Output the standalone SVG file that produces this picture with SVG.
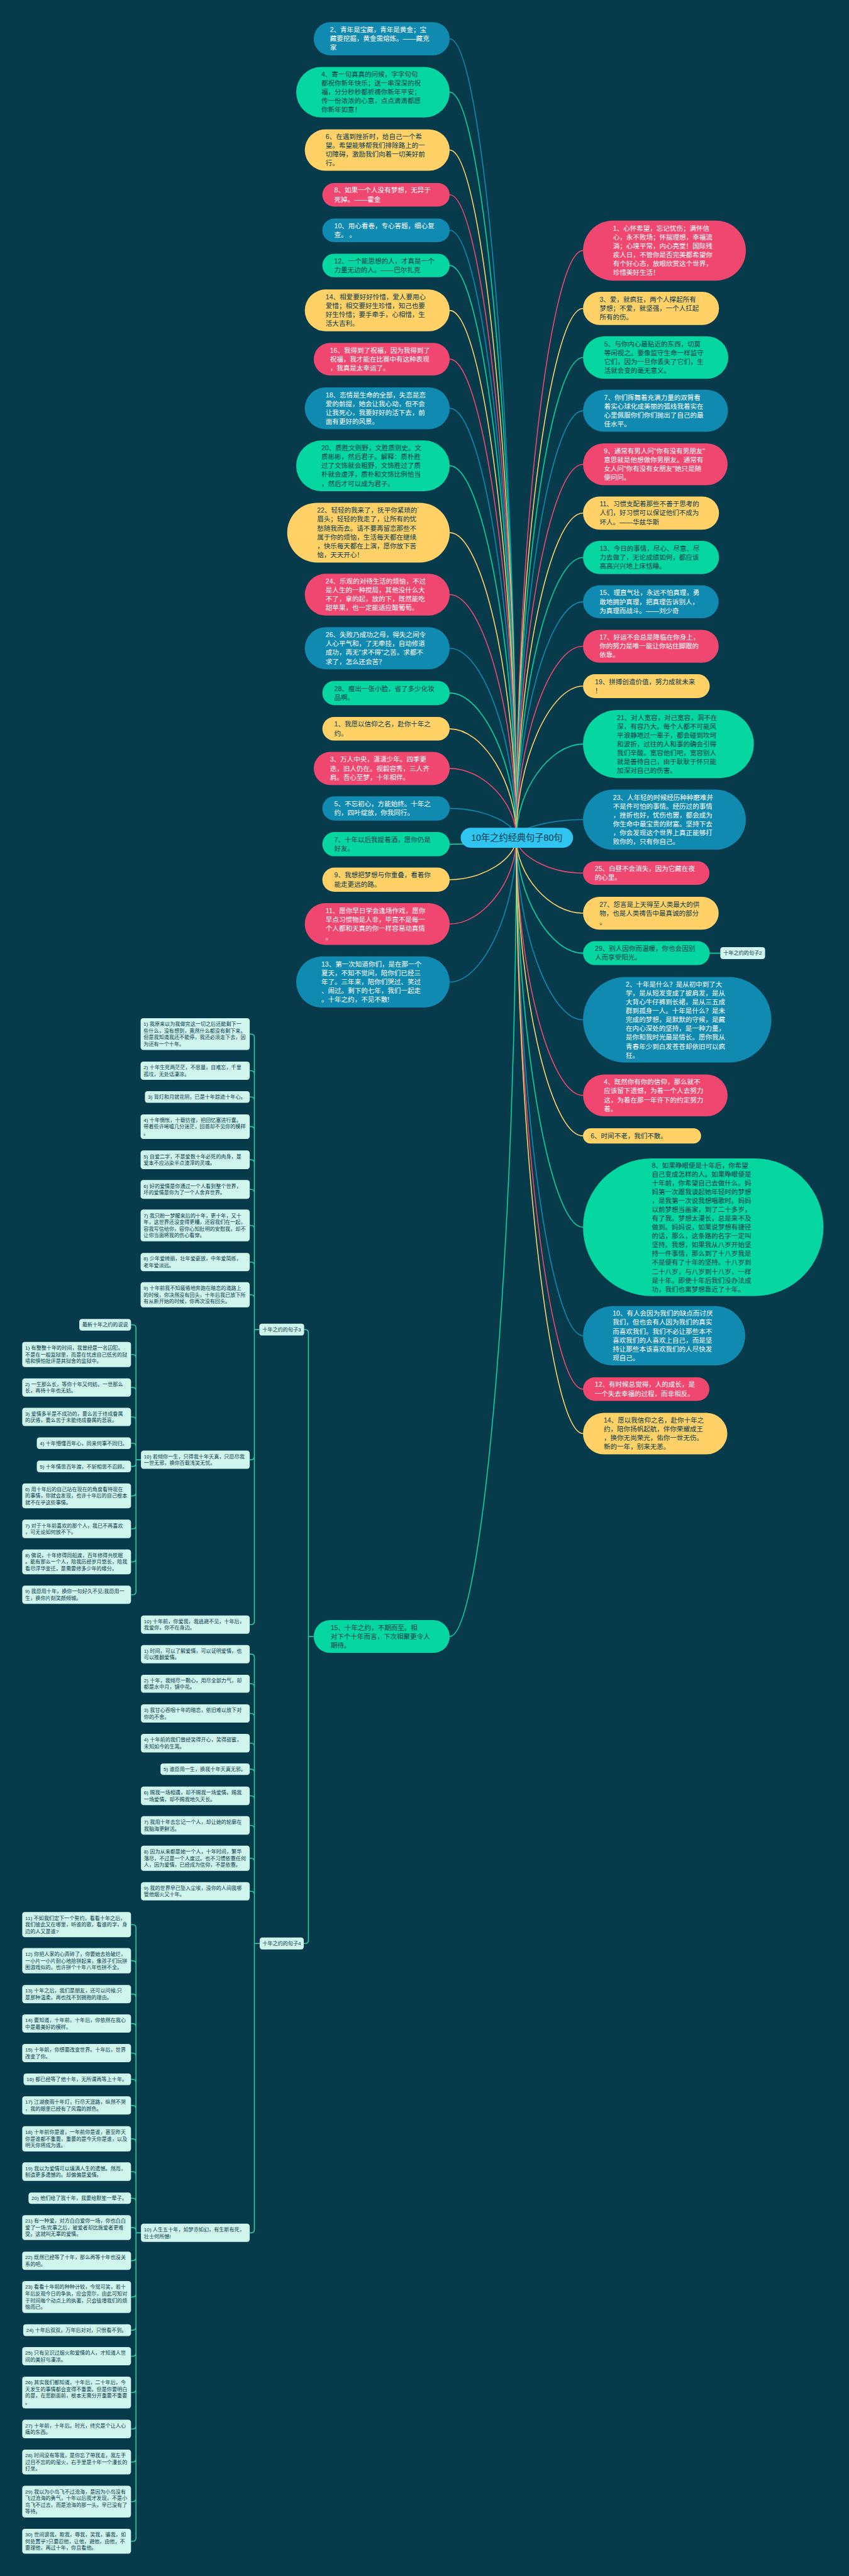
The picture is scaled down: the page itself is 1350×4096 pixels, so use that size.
<svg xmlns="http://www.w3.org/2000/svg" width="1350" height="4096" viewBox="0 0 1350 4096">
<style>
.t{font-family:"Liberation Sans","Noto Sans CJK SC",sans-serif}
.pk{fill:#EF476F}.yl{fill:#FFD166}.gr{fill:#06D6A0}.bl{fill:#118AB2}.lt{fill:#CFF5EC}.ce{fill:#30C5F0}
.tw{fill:#FFFFFF;font-size:20px}.td{fill:#073B4C;font-size:20px}.ts{fill:#073B4C;font-size:15.4px}
.cn{fill:none;stroke-width:3}.sp{stroke:#EF476F}.sy{stroke:#FFD166}.sg{stroke:#06D6A0}.sb{stroke:#118AB2}
.br{fill:none;stroke:#2ACFA2;stroke-width:3}
</style>
<rect x="0" y="0" width="1350" height="4096" fill="#073B4C"/>
<g transform="scale(0.52734375)">
<g id="connectors">
<path class="cn sb" d="M1557 2526C1557 1321.5 1456.5 117 1356 117"/>
<path class="cn sg" d="M1557 2526C1557 1402 1456.5 278 1356 278"/>
<path class="cn sy" d="M1557 2526C1557 1489.25 1456.5 452.5 1356 452.5"/>
<path class="cn sp" d="M1557 2526C1557 1556.75 1456.5 587.5 1356 587.5"/>
<path class="cn sb" d="M1557 2526C1557 1610.25 1456.5 694.5 1356 694.5"/>
<path class="cn sg" d="M1557 2526C1557 1663.25 1456.5 800.5 1356 800.5"/>
<path class="cn sy" d="M1557 2526C1557 1731 1456.5 936 1356 936"/>
<path class="cn sp" d="M1557 2526C1557 1804.5 1456.5 1083 1356 1083"/>
<path class="cn sb" d="M1557 2526C1557 1878.5 1456.5 1231 1356 1231"/>
<path class="cn sg" d="M1557 2526C1557 1965.25 1456.5 1404.5 1356 1404.5"/>
<path class="cn sy" d="M1557 2526C1557 2066 1456.5 1606 1356 1606"/>
<path class="cn sp" d="M1557 2526C1557 2159.5 1456.5 1793 1356 1793"/>
<path class="cn sb" d="M1557 2526C1557 2240.25 1456.5 1954.5 1356 1954.5"/>
<path class="cn sg" d="M1557 2526C1557 2307.75 1456.5 2089.5 1356 2089.5"/>
<path class="cn sy" d="M1557 2526C1557 2361.75 1456.5 2197.5 1356 2197.5"/>
<path class="cn sp" d="M1557 2526C1557 2421.5 1456.5 2317 1356 2317"/>
<path class="cn sb" d="M1557 2526C1557 2481.75 1456.5 2437.5 1356 2437.5"/>
<path class="cn sg" d="M1557 2526C1557 2535.75 1456.5 2545.5 1356 2545.5"/>
<path class="cn sy" d="M1557 2526C1557 2589.25 1456.5 2652.5 1356 2652.5"/>
<path class="cn sp" d="M1557 2526C1557 2656 1456.5 2786 1356 2786"/>
<path class="cn sb" d="M1557 2526C1557 2743.5 1456.5 2961 1356 2961"/>
<path class="cn sg" d="M1557 2526C1557 3730.25 1456.5 4934.5 1356 4934.5"/>
<path class="cn sp" d="M1557 2526C1557 1640.75 1657.5 755.5 1758 755.5"/>
<path class="cn sy" d="M1557 2526C1557 1728 1657.5 930 1758 930"/>
<path class="cn sg" d="M1557 2526C1557 1802 1657.5 1078 1758 1078"/>
<path class="cn sb" d="M1557 2526C1557 1882.25 1657.5 1238.5 1758 1238.5"/>
<path class="cn sp" d="M1557 2526C1557 1963 1657.5 1400 1758 1400"/>
<path class="cn sy" d="M1557 2526C1557 2036.5 1657.5 1547 1758 1547"/>
<path class="cn sg" d="M1557 2526C1557 2103.5 1657.5 1681 1758 1681"/>
<path class="cn sb" d="M1557 2526C1557 2170.25 1657.5 1814.5 1758 1814.5"/>
<path class="cn sp" d="M1557 2526C1557 2237.25 1657.5 1948.5 1758 1948.5"/>
<path class="cn sy" d="M1557 2526C1557 2297.5 1657.5 2069 1758 2069"/>
<path class="cn sg" d="M1557 2526C1557 2384.75 1657.5 2243.5 1758 2243.5"/>
<path class="cn sb" d="M1557 2526C1557 2498.75 1657.5 2471.5 1758 2471.5"/>
<path class="cn sp" d="M1557 2526C1557 2579.25 1657.5 2632.5 1758 2632.5"/>
<path class="cn sy" d="M1557 2526C1557 2639.75 1657.5 2753.5 1758 2753.5"/>
<path class="cn sg" d="M1557 2526C1557 2700 1657.5 2874 1758 2874H2172"/>
<path class="cn sb" d="M1557 2526C1557 2800.5 1657.5 3075 1758 3075"/>
<path class="cn sp" d="M1557 2526C1557 2914.5 1657.5 3303 1758 3303"/>
<path class="cn sy" d="M1557 2526C1557 2975.5 1657.5 3425 1758 3425"/>
<path class="cn sg" d="M1557 2526C1557 3113.25 1657.5 3700.5 1758 3700.5"/>
<path class="cn sb" d="M1557 2526C1557 3276.75 1657.5 4027.5 1758 4027.5"/>
<path class="cn sp" d="M1557 2526C1557 3357.25 1657.5 4188.5 1758 4188.5"/>
<path class="cn sy" d="M1557 2526C1557 3424.25 1657.5 4322.5 1758 4322.5"/>
<path class="br" d="M946 4934.5H930V4019Q930 4009 920 4009H917M946 4934.5H930V5850Q930 5860 920 5860H916"/>
<path class="br" d="M782 4009H767V3128Q767 3118 757 3118H753M782 4009H767V3238.5Q767 3228.5 757 3228.5H753M782 4009H767V3317.5Q767 3307.5 757 3307.5H753M782 4009H767V3407Q767 3397 757 3397H753M782 4009H767V3507Q767 3497 757 3497H753M782 4009H767V3596.5Q767 3586.5 757 3586.5H753M782 4009H767V3705Q767 3695 757 3695H753M782 4009H767V3815.5Q767 3805.5 757 3805.5H753M782 4009H767V3914Q767 3904 757 3904H753M782 4009H767V4391.5Q767 4401.5 757 4401.5H753M782 4009H767V4888.5Q767 4898.5 757 4898.5H753"/>
<path class="br" d="M425 4401.5H410V4004.5Q410 3994.5 400 3994.5H395M425 4401.5H410V4094Q410 4084 400 4084H395M425 4401.5H410V4193.5Q410 4183.5 400 4183.5H395M425 4401.5H410V4282.5Q410 4272.5 400 4272.5H395M425 4401.5H410V4361.5Q410 4351.5 400 4351.5H395M425 4401.5H410V4411.5Q410 4421.5 400 4421.5H395M425 4401.5H410V4500.5Q410 4510.5 400 4510.5H395M425 4401.5H410V4600Q410 4610 400 4610H395M425 4401.5H410V4699.5Q410 4709.5 400 4709.5H395M425 4401.5H410V4798.5Q410 4808.5 400 4808.5H395"/>
<path class="br" d="M783 5860H767V4997.5Q767 4987.5 757 4987.5H753M783 5860H767V5087Q767 5077 757 5077H753M783 5860H767V5176.5Q767 5166.5 757 5166.5H753M783 5860H767V5266Q767 5256 757 5256H753M783 5860H767V5344.5Q767 5334.5 757 5334.5H753M783 5860H767V5425Q767 5415 757 5415H753M783 5860H767V5514Q767 5504 757 5504H753M783 5860H767V5613Q767 5603 757 5603H753M783 5860H767V5712.5Q767 5702.5 757 5702.5H753M783 5860H767V6722.5Q767 6732.5 757 6732.5H753"/>
<path class="br" d="M425 6732.5H410V5813Q410 5803 400 5803H395M425 6732.5H410V5922Q410 5912 400 5912H395M425 6732.5H410V6022.5Q410 6012.5 400 6012.5H395M425 6732.5H410V6111.5Q410 6101.5 400 6101.5H395M425 6732.5H410V6200.5Q410 6190.5 400 6190.5H395M425 6732.5H410V6279.5Q410 6269.5 400 6269.5H395M425 6732.5H410V6358.5Q410 6348.5 400 6348.5H395M425 6732.5H410V6459Q410 6449 400 6449H395M425 6732.5H410V6558Q410 6548 400 6548H395M425 6732.5H410V6638Q410 6628 400 6628H395M425 6732.5H410V6726.5Q410 6716.5 400 6716.5H395M425 6732.5H410V6806.5Q410 6816.5 400 6816.5H395M425 6732.5H410V6916Q410 6926 400 6926H395M425 6732.5H410V7016Q410 7026 400 7026H395M425 6732.5H410V7094.5Q410 7104.5 400 7104.5H395M425 6732.5H410V7204Q410 7214 400 7214H395M425 6732.5H410V7314Q410 7324 400 7324H395M425 6732.5H410V7413.5Q410 7423.5 400 7423.5H395M425 6732.5H410V7533Q410 7543 400 7543H395M425 6732.5H410V7652.5Q410 7662.5 400 7662.5H395"/>
</g>
<g id="center"><rect class="ce" x="1389" y="2496" width="339" height="60" rx="30"/><text class="t" x="1558.5" y="2536" text-anchor="middle" font-size="27" fill="#073B4C">10年之约经典句子80句</text></g>
<g id="l2"><rect class="bl" x="946" y="67" width="410" height="100" rx="50"/><text class="t tw" x="995" y="97.3"><tspan>2、青年是宝藏，青年是黄金；宝</tspan><tspan x="995" dy="26.7">藏要挖掘，黄金需熔炼。——藏克</tspan><tspan x="995" dy="26.7">家</tspan></text></g>
<g id="l4"><rect class="gr" x="893" y="202" width="463" height="152" rx="76"/><text class="t td" x="969" y="231.6"><tspan>4、寄一句真真的问候，字字句句</tspan><tspan x="969" dy="26.7">都祝你新年快乐；送一串深深的祝</tspan><tspan x="969" dy="26.7">福，分分秒秒都祈祷你新年平安；</tspan><tspan x="969" dy="26.7">传一份浓浓的心意，点点滴滴都愿</tspan><tspan x="969" dy="26.7">你新年如意！</tspan></text></g>
<g id="l6"><rect class="yl" x="919" y="390" width="437" height="125" rx="62.5"/><text class="t td" x="982" y="419.45"><tspan>6、在遇到挫折时，给自己一个希</tspan><tspan x="982" dy="26.7">望。希望能够帮我们排除路上的一</tspan><tspan x="982" dy="26.7">切障碍，激励我们向着一切美好前</tspan><tspan x="982" dy="26.7">行。</tspan></text></g>
<g id="l8"><rect class="pk" x="972" y="552" width="384" height="71" rx="35.5"/><text class="t tw" x="1008" y="581.15"><tspan>8、如果一个人没有梦想，无异于</tspan><tspan x="1008" dy="26.7">死掉。——霍金</tspan></text></g>
<g id="l10"><rect class="bl" x="972" y="659" width="384" height="71" rx="35.5"/><text class="t tw" x="1008" y="688.15"><tspan>10、用心看卷，专心答题，细心复</tspan><tspan x="1008" dy="26.7">查。 。</tspan></text></g>
<g id="l12"><rect class="gr" x="972" y="765" width="384" height="71" rx="35.5"/><text class="t td" x="1008" y="794.15"><tspan>12、一个能思想的人，才真是一个</tspan><tspan x="1008" dy="26.7">力量无边的人。——巴尔扎克</tspan></text></g>
<g id="l14"><rect class="yl" x="919" y="873" width="437" height="126" rx="63"/><text class="t td" x="982" y="902.95"><tspan>14、相爱要好好怜惜，爱人要用心</tspan><tspan x="982" dy="26.7">爱惜；相交要好生珍惜，知己也要</tspan><tspan x="982" dy="26.7">好生怜惜；要手牵手，心相惜，生</tspan><tspan x="982" dy="26.7">活大吉利。</tspan></text></g>
<g id="l16"><rect class="pk" x="946" y="1034" width="410" height="98" rx="49"/><text class="t tw" x="995" y="1063.3"><tspan>16、我得到了祝福，因为我得到了</tspan><tspan x="995" dy="26.7">祝福，我才能在比赛中有这种表现</tspan><tspan x="995" dy="26.7">，我真是太幸运了。</tspan></text></g>
<g id="l18"><rect class="bl" x="919" y="1168" width="437" height="126" rx="63"/><text class="t tw" x="982" y="1197.95"><tspan>18、恋情是生命的全部，失恋是恋</tspan><tspan x="982" dy="26.7">爱的前提，她会让我心动，但不会</tspan><tspan x="982" dy="26.7">让我死心，我要好好的活下去，前</tspan><tspan x="982" dy="26.7">面有更好的风景。</tspan></text></g>
<g id="l20"><rect class="gr" x="893" y="1328" width="463" height="153" rx="76.5"/><text class="t td" x="969" y="1358.1"><tspan>20、质胜文则野，文胜质则史。文</tspan><tspan x="969" dy="26.7">质彬彬，然后君子。解释：质朴胜</tspan><tspan x="969" dy="26.7">过了文饰就会粗野，文饰胜过了质</tspan><tspan x="969" dy="26.7">朴就会虚浮，质朴和文饰比例恰当</tspan><tspan x="969" dy="26.7">，然后才可以成为君子。</tspan></text></g>
<g id="l22"><rect class="yl" x="866" y="1516" width="490" height="180" rx="90"/><text class="t td" x="956" y="1546.25"><tspan>22、轻轻的我来了，抚平你紧琐的`</tspan><tspan x="956" dy="26.7">眉头；轻轻的我走了，让所有的忧</tspan><tspan x="956" dy="26.7">愁随我而去。请不要再留恋那些不</tspan><tspan x="956" dy="26.7">属于你的烦恼，生活每天都在继续</tspan><tspan x="956" dy="26.7">，快乐每天都在上演，愿你放下苦</tspan><tspan x="956" dy="26.7">恼，天天开心！</tspan></text></g>
<g id="l24"><rect class="pk" x="919" y="1730" width="437" height="126" rx="63"/><text class="t tw" x="982" y="1759.95"><tspan>24、乐观的对待生活的烦恼，不过</tspan><tspan x="982" dy="26.7">是人生的一种搅局，其他没什么大</tspan><tspan x="982" dy="26.7">不了，拿的起，放的下，既然能吃</tspan><tspan x="982" dy="26.7">甜苹果，也一定能适应酸葡萄。</tspan></text></g>
<g id="l26"><rect class="bl" x="919" y="1891" width="437" height="127" rx="63.5"/><text class="t tw" x="982" y="1921.45"><tspan>26、失败乃成功之母，得失之间令</tspan><tspan x="982" dy="26.7">人心平气和，了无牵挂，自动修道</tspan><tspan x="982" dy="26.7">成功，再无"求不得"之苦。求都不</tspan><tspan x="982" dy="26.7">求了，怎么还会苦？</tspan></text></g>
<g id="l28"><rect class="gr" x="972" y="2053" width="384" height="73" rx="36.5"/><text class="t td" x="1008" y="2083.15"><tspan>28、瘦出一张小脸，省了多少化妆</tspan><tspan x="1008" dy="26.7">品啊。</tspan></text></g>
<g id="l1"><rect class="yl" x="972" y="2162" width="384" height="71" rx="35.5"/><text class="t td" x="1008" y="2191.15"><tspan>1、我愿以信仰之名，赴你十年之</tspan><tspan x="1008" dy="26.7">约。</tspan></text></g>
<g id="l3"><rect class="pk" x="946" y="2267" width="410" height="100" rx="50"/><text class="t tw" x="995" y="2297.3"><tspan>3、万人中央，潇潇少年。四季更</tspan><tspan x="995" dy="26.7">迭，旧人仍在。视毅容秀，三人齐</tspan><tspan x="995" dy="26.7">肩。吾心至梦，十年相伴。</tspan></text></g>
<g id="l5"><rect class="bl" x="972" y="2401" width="384" height="73" rx="36.5"/><text class="t tw" x="1008" y="2431.15"><tspan>5、不忘初心，方能始终。十年之</tspan><tspan x="1008" dy="26.7">约，四叶绽放，你我同行。</tspan></text></g>
<g id="l7"><rect class="gr" x="972" y="2509" width="384" height="73" rx="36.5"/><text class="t td" x="1008" y="2539.15"><tspan>7、十年以后我提着酒，愿你仍是</tspan><tspan x="1008" dy="26.7">好友。</tspan></text></g>
<g id="l9"><rect class="yl" x="972" y="2616" width="384" height="73" rx="36.5"/><text class="t td" x="1008" y="2646.15"><tspan>9、我想把梦想与你重叠，看着你</tspan><tspan x="1008" dy="26.7">能走更远的路。</tspan></text></g>
<g id="l11"><rect class="pk" x="919" y="2723" width="437" height="126" rx="63"/><text class="t tw" x="982" y="2752.95"><tspan>11、愿你早日学会逢场作戏，愿你</tspan><tspan x="982" dy="26.7">早点习惯物是人非，毕竟不是每一</tspan><tspan x="982" dy="26.7">个人都和天真的你一样容易动真情</tspan><tspan x="982" dy="26.7">。</tspan></text></g>
<g id="l13"><rect class="bl" x="893" y="2884" width="463" height="154" rx="77"/><text class="t tw" x="969" y="2914.6"><tspan>13、第一次知道你们，是在那一个</tspan><tspan x="969" dy="26.7">夏天，不知不觉间，陪你们已经三</tspan><tspan x="969" dy="26.7">年了。三年来，陪你们哭过、笑过</tspan><tspan x="969" dy="26.7">、闹过。剩下的七年，我们一起走</tspan><tspan x="969" dy="26.7">。十年之约，不见不散!</tspan></text></g>
<g id="l15"><rect class="gr" x="946" y="4885" width="410" height="99" rx="49.5"/><text class="t td" x="997" y="4914.8"><tspan>15、十年之约，不期而至。相</tspan><tspan x="997" dy="26.7">对下个十年而言，下次相聚更令人</tspan><tspan x="997" dy="26.7">期待。</tspan></text></g>
<g id="r1"><rect class="pk" x="1758" y="665" width="491" height="181" rx="90.5"/><text class="t tw" x="1848.5" y="695.75"><tspan>1、心怀希望，忘记忧伤；满怀信</tspan><tspan x="1848.5" dy="26.7">心，永不败场；怀揣理想，幸福流</tspan><tspan x="1848.5" dy="26.7">淌；心境平常，内心亮堂！国际残</tspan><tspan x="1848.5" dy="26.7">疾人日，不管你是否完美都希望你</tspan><tspan x="1848.5" dy="26.7">有个好心态，放眼欣赏这个世界，</tspan><tspan x="1848.5" dy="26.7">珍惜美好生活！</tspan></text></g>
<g id="r3"><rect class="yl" x="1758" y="880" width="410" height="100" rx="50"/><text class="t td" x="1808" y="910.3"><tspan>3、爱，就疯狂，两个人撑起所有</tspan><tspan x="1808" dy="26.7">梦想；不爱，就坚强，一个人扛起</tspan><tspan x="1808" dy="26.7">所有的伤。</tspan></text></g>
<g id="r5"><rect class="gr" x="1758" y="1014" width="438" height="128" rx="64"/><text class="t td" x="1822" y="1044.95"><tspan>5、与你内心最贴近的东西，切莫</tspan><tspan x="1822" dy="26.7">等闲视之。要像监守生命一样监守</tspan><tspan x="1822" dy="26.7">它们，因为一旦你丢失了它们，生</tspan><tspan x="1822" dy="26.7">活就会变的毫无意义。</tspan></text></g>
<g id="r7"><rect class="bl" x="1758" y="1175" width="437" height="127" rx="63.5"/><text class="t tw" x="1821.5" y="1205.45"><tspan>7、你们挥舞着充满力量的双臂看</tspan><tspan x="1821.5" dy="26.7">着实心球化成美丽的弧线我着实在</tspan><tspan x="1821.5" dy="26.7">心里佩服你们你们抛出了自己的最</tspan><tspan x="1821.5" dy="26.7">佳水平。</tspan></text></g>
<g id="r9"><rect class="pk" x="1758" y="1337" width="436" height="126" rx="63"/><text class="t tw" x="1821" y="1366.95"><tspan>9、通常有男人问"你有没有男朋友"</tspan><tspan x="1821" dy="26.7">意思就是他想做你男朋友。通常有</tspan><tspan x="1821" dy="26.7">女人问"你有没有女朋友"她只是随</tspan><tspan x="1821" dy="26.7">便问问。</tspan></text></g>
<g id="r11"><rect class="yl" x="1758" y="1497" width="410" height="100" rx="50"/><text class="t td" x="1808" y="1527.3"><tspan>11、习惯支配着那些不善于思考的</tspan><tspan x="1808" dy="26.7">人们，好习惯可以保证他们不成为</tspan><tspan x="1808" dy="26.7">坏人。——华兹华斯</tspan></text></g>
<g id="r13"><rect class="gr" x="1758" y="1631" width="410" height="100" rx="50"/><text class="t td" x="1808" y="1661.3"><tspan>13、今日的事情，尽心、尽意、尽</tspan><tspan x="1808" dy="26.7">力去做了，无论成绩如何，都应该</tspan><tspan x="1808" dy="26.7">高高兴兴地上床恬睡。</tspan></text></g>
<g id="r15"><rect class="bl" x="1758" y="1765" width="409" height="99" rx="49.5"/><text class="t tw" x="1807.5" y="1794.8"><tspan>15、理直气壮，永远不怕真理，勇</tspan><tspan x="1807.5" dy="26.7">敢地拥护真理，把真理告诉别人，</tspan><tspan x="1807.5" dy="26.7">为真理而战斗。——刘少奇</tspan></text></g>
<g id="r17"><rect class="pk" x="1758" y="1899" width="409" height="99" rx="49.5"/><text class="t tw" x="1807.5" y="1928.8"><tspan>17、好运不会总是降临在你身上，</tspan><tspan x="1807.5" dy="26.7">你的努力是唯一能让你站住脚跟的</tspan><tspan x="1807.5" dy="26.7">依靠。</tspan></text></g>
<g id="r19"><rect class="yl" x="1758" y="2033" width="382" height="72" rx="36"/><text class="t td" x="1794" y="2062.65"><tspan>19、拼搏创造价值，努力成就未来</tspan><tspan x="1794" dy="26.7">！</tspan></text></g>
<g id="r21"><rect class="gr" x="1758" y="2141" width="515" height="205" rx="102.5"/><text class="t td" x="1860.5" y="2170.4"><tspan>21、对人宽容，对己宽容，洞不在</tspan><tspan x="1860.5" dy="26.7">深，有容乃大。每个人都不可能风</tspan><tspan x="1860.5" dy="26.7">平浪静地过一辈子，都会碰到坎坷</tspan><tspan x="1860.5" dy="26.7">和波折，过往的人和事的确会引得</tspan><tspan x="1860.5" dy="26.7">我们辛酸。宽容他们吧，宽容别人</tspan><tspan x="1860.5" dy="26.7">就是善待自己，由于耿耿于怀只能</tspan><tspan x="1860.5" dy="26.7">加深对自己的伤害。</tspan></text></g>
<g id="r23"><rect class="bl" x="1758" y="2381" width="491" height="181" rx="90.5"/><text class="t tw" x="1848.5" y="2411.75"><tspan>23、人年轻的时候经历种种磨难并</tspan><tspan x="1848.5" dy="26.7">不是件可怕的事情。经历过的事情</tspan><tspan x="1848.5" dy="26.7">，挫折也好，忧伤也罢，都会成为</tspan><tspan x="1848.5" dy="26.7">你生命中最宝贵的财富。坚持下去</tspan><tspan x="1848.5" dy="26.7">，你会发现这个世界上真正能够打</tspan><tspan x="1848.5" dy="26.7">败你的，只有你自己。</tspan></text></g>
<g id="r25"><rect class="pk" x="1758" y="2597" width="381" height="71" rx="35.5"/><text class="t tw" x="1793.5" y="2626.15"><tspan>25、白昼不会消失，因为它藏在夜</tspan><tspan x="1793.5" dy="26.7">的心里。</tspan></text></g>
<g id="r27"><rect class="yl" x="1758" y="2704" width="409" height="99" rx="49.5"/><text class="t td" x="1807.5" y="2733.8"><tspan>27、怨言是上天得至人类最大的供</tspan><tspan x="1807.5" dy="26.7">物，也是人类祷告中最真诚的部分</tspan><tspan x="1807.5" dy="26.7">。</tspan></text></g>
<g id="r29"><rect class="gr" x="1758" y="2838" width="382" height="72" rx="36"/><text class="t td" x="1794" y="2867.65"><tspan>29、别人因你而温暖，你也会因别</tspan><tspan x="1794" dy="26.7">人而享受阳光。</tspan></text></g>
<g id="label2"><rect class="lt" x="2172" y="2856" width="135" height="36" rx="8"/><text class="t ts" x="2239.5" y="2879.5" text-anchor="middle">十年之约的句子2</text></g>
<g id="r2"><rect class="bl" x="1758" y="2946" width="568" height="258" rx="129"/><text class="t tw" x="1887" y="2975.2"><tspan>2、十年是什么？是从初中到了大</tspan><tspan x="1887" dy="26.7">学，是从短发变成了披肩发，是从</tspan><tspan x="1887" dy="26.7">大背心牛仔裤到长裙，是从三五成</tspan><tspan x="1887" dy="26.7">群到孤身一人。十年是什么？是未</tspan><tspan x="1887" dy="26.7">完成的梦想，是默默的守候，是藏</tspan><tspan x="1887" dy="26.7">在内心深处的坚持，是一种力量，</tspan><tspan x="1887" dy="26.7">是你和我时光最是情长。愿你我从</tspan><tspan x="1887" dy="26.7">青春年少到白发苍苍却依旧可以疯</tspan><tspan x="1887" dy="26.7">狂。</tspan></text></g>
<g id="r4"><rect class="pk" x="1758" y="3240" width="436" height="126" rx="63"/><text class="t tw" x="1821" y="3269.95"><tspan>4、既然你有你的信仰，那么就不</tspan><tspan x="1821" dy="26.7">应该留下遗憾，为着一个人去努力</tspan><tspan x="1821" dy="26.7">这，为着在那一年许下的约定努力</tspan><tspan x="1821" dy="26.7">着。</tspan></text></g>
<g id="r6"><rect class="yl" x="1758" y="3402" width="356" height="46" rx="23"/><text class="t td" x="1781" y="3432">6、时间不老，我们不散。</text></g>
<g id="r8"><rect class="gr" x="1758" y="3493" width="725" height="415" rx="207.5"/><text class="t td" x="1965.5" y="3520.6"><tspan>8、如果睁眼便是十年后，你希望</tspan><tspan x="1965.5" dy="26.7">自己变成怎样的人。如果睁眼便是</tspan><tspan x="1965.5" dy="26.7">十年前，你希望自己去做什么。妈</tspan><tspan x="1965.5" dy="26.7">妈第一次跟我谈起她年轻时的梦想</tspan><tspan x="1965.5" dy="26.7">，是我第一次说我想唱歌时。妈妈</tspan><tspan x="1965.5" dy="26.7">以前梦想当画家，到了二十多岁，</tspan><tspan x="1965.5" dy="26.7">有了我。梦想太漫长，总是来不及</tspan><tspan x="1965.5" dy="26.7">做到。妈妈说，如果说梦想有捷径</tspan><tspan x="1965.5" dy="26.7">的话，那么，这条路的名字一定叫</tspan><tspan x="1965.5" dy="26.7">坚持。我想，如果我从八岁开始坚</tspan><tspan x="1965.5" dy="26.7">持一件事情，那么到了十八岁我是</tspan><tspan x="1965.5" dy="26.7">不是便有了十年的坚持。十八岁到</tspan><tspan x="1965.5" dy="26.7">二十八岁，与八岁到十八岁，一样</tspan><tspan x="1965.5" dy="26.7">是十年。即使十年后我们没办法成</tspan><tspan x="1965.5" dy="26.7">功，我们也离梦想靠近了十年。</tspan></text></g>
<g id="r10"><rect class="bl" x="1758" y="3938" width="489" height="179" rx="89.5"/><text class="t tw" x="1847.5" y="3967.75"><tspan>10、有人会因为我们的缺点而讨厌</tspan><tspan x="1847.5" dy="26.7">我们，但也会有人因为我们的真实</tspan><tspan x="1847.5" dy="26.7">而喜欢我们。我们不必让那些本不</tspan><tspan x="1847.5" dy="26.7">喜欢我们的人喜欢上自己，而是坚</tspan><tspan x="1847.5" dy="26.7">持让那些本该喜欢我们的人尽快发</tspan><tspan x="1847.5" dy="26.7">现自己。</tspan></text></g>
<g id="r12"><rect class="pk" x="1758" y="4153" width="381" height="71" rx="35.5"/><text class="t tw" x="1793.5" y="4182.15"><tspan>12、有时候总觉得，人的成长，是</tspan><tspan x="1793.5" dy="26.7">一个失去幸福的过程，而非相反。</tspan></text></g>
<g id="r14"><rect class="yl" x="1758" y="4260" width="435" height="125" rx="62.5"/><text class="t td" x="1820.5" y="4289.45"><tspan>14、愿以我信仰之名，赴你十年之</tspan><tspan x="1820.5" dy="26.7">约，陪你扬帆起航，伴你荣耀成王</tspan><tspan x="1820.5" dy="26.7">，换你无尚荣光，佑你一世无伤。</tspan><tspan x="1820.5" dy="26.7">新的一年，别来无恙。</tspan></text></g>
<g id="label3"><rect class="lt" x="782" y="3991" width="135" height="36" rx="8"/><text class="t ts" x="849.5" y="4014.5" text-anchor="middle">十年之约的句子3</text></g>
<g id="a1"><rect class="lt" x="424" y="3070" width="329" height="96" rx="8"/><text class="t ts" x="433" y="3093.5"><tspan>1) 我原来以为我做完这一切之后还能剩下一</tspan><tspan x="433" dy="20">些什么，没有想到，竟然什么都没有剩下来。</tspan><tspan x="433" dy="20">但是我知道我还不能停，我还必须走下去，因</tspan><tspan x="433" dy="20">为还有一个十年。</tspan></text></g>
<g id="a2"><rect class="lt" x="424" y="3201" width="329" height="55" rx="8"/><text class="t ts" x="433" y="3224"><tspan>2) 十年生死两茫茫，不思量，自难忘，千里</tspan><tspan x="433" dy="20">孤坟，无处话凄凉。</tspan></text></g>
<g id="a3"><rect class="lt" x="437" y="3290" width="316" height="35" rx="8"/><text class="t ts" x="446" y="3313">3) 背灯和月就花阴，已是十年踪迹十年心。</text></g>
<g id="a4"><rect class="lt" x="424" y="3360" width="329" height="74" rx="8"/><text class="t ts" x="433" y="3382.5"><tspan>4) 十年惆怅，十载彷徨，把回忆塞进行囊。</tspan><tspan x="433" dy="20">带着些许唏嘘几分迷茫，回首却不见你的模样</tspan><tspan x="433" dy="20">。</tspan></text></g>
<g id="a5"><rect class="lt" x="424" y="3469" width="329" height="56" rx="8"/><text class="t ts" x="433" y="3492.5"><tspan>5) 自爱二字，不是爱数十年必死的肉身，是</tspan><tspan x="433" dy="20">爱本不应沾染半点渣滓的灵魂。</tspan></text></g>
<g id="a6"><rect class="lt" x="424" y="3558" width="329" height="57" rx="8"/><text class="t ts" x="433" y="3582"><tspan>6) 好的爱情是你通过一个人看到整个世界，</tspan><tspan x="433" dy="20">坏的爱情是你为了一个人舍弃世界。</tspan></text></g>
<g id="a7"><rect class="lt" x="424" y="3647" width="329" height="96" rx="8"/><text class="t ts" x="433" y="3670.5"><tspan>7) 我只盼一梦醒来后的十年，更十年，又十</tspan><tspan x="433" dy="20">年，这世界还没变得更糟，还容我们在一起，</tspan><tspan x="433" dy="20">容我写信给你，容你心知肚明的安慰我，却不</tspan><tspan x="433" dy="20">让你当面将我的伤心看穿。</tspan></text></g>
<g id="a8"><rect class="lt" x="424" y="3778" width="329" height="55" rx="8"/><text class="t ts" x="433" y="3801"><tspan>8) 少年爱绮丽，壮年爱豪放，中年爱简练，</tspan><tspan x="433" dy="20">老年爱淡远。</tspan></text></g>
<g id="a9"><rect class="lt" x="424" y="3866" width="329" height="76" rx="8"/><text class="t ts" x="433" y="3889.5"><tspan>9) 十年前我不知疲倦地奔跑在暗恋的道路上</tspan><tspan x="433" dy="20">的时候，你决然没有回头，十年后我已放下所</tspan><tspan x="433" dy="20">有从新开始的时候，你再次没有回头。</tspan></text></g>
<g id="a10"><rect class="lt" x="425" y="4374" width="328" height="55" rx="8"/><text class="t ts" x="434" y="4397"><tspan>10) 若倾你一生，只得我十年天真，只愿尽我</tspan><tspan x="434" dy="20">一世无邪，换你百载浅笑无忧。</tspan></text></g>
<g id="a11"><rect class="lt" x="425" y="4871" width="328" height="55" rx="8"/><text class="t ts" x="434" y="4894"><tspan>10) 十年前，你爱我，我逃避不见，十年后，</tspan><tspan x="434" dy="20">我爱你，你不在身边。</tspan></text></g>
<g id="b0"><rect class="lt" x="239" y="3977" width="156" height="35" rx="8"/><text class="t ts" x="317" y="4000" text-anchor="middle">最新十年之约的说说</text></g>
<g id="b1"><rect class="lt" x="67" y="4046" width="328" height="76" rx="8"/><text class="t ts" x="76" y="4069.5"><tspan>1) 有整整十年的时间，我曾经是一名囚犯。</tspan><tspan x="76" dy="20">不是在一般监狱里，而是在忧虑自己低劣的狱</tspan><tspan x="76" dy="20">墙和惧怕批评是其狱舍的监狱中。</tspan></text></g>
<g id="b2"><rect class="lt" x="67" y="4156" width="328" height="55" rx="8"/><text class="t ts" x="76" y="4179"><tspan>2) 一生那么长，等你十年又何妨。一世那么</tspan><tspan x="76" dy="20">长，再待十年也无妨。</tspan></text></g>
<g id="b3"><rect class="lt" x="67" y="4245" width="328" height="55" rx="8"/><text class="t ts" x="76" y="4268"><tspan>3) 爱情多半是不成功的，要么苦于终成眷属</tspan><tspan x="76" dy="20">的厌倦，要么苦于未能终成眷属的悲哀。</tspan></text></g>
<g id="b4"><rect class="lt" x="111" y="4334" width="284" height="35" rx="8"/><text class="t ts" x="120" y="4357">4) 十年懵懂百年心，同来何事不同归。</text></g>
<g id="b5"><rect class="lt" x="111" y="4404" width="284" height="35" rx="8"/><text class="t ts" x="120" y="4427">5) 十年情思百年渡，不斩相思不忍顾。</text></g>
<g id="b6"><rect class="lt" x="67" y="4473" width="328" height="75" rx="8"/><text class="t ts" x="76" y="4496"><tspan>6) 用十年后的自己站在现在的角度看待现在</tspan><tspan x="76" dy="20">的事情，你就会发现，也许十年后的自己根本</tspan><tspan x="76" dy="20">就不在乎这些事情。</tspan></text></g>
<g id="b7"><rect class="lt" x="67" y="4582" width="328" height="56" rx="8"/><text class="t ts" x="76" y="4605.5"><tspan>7) 对于十年前喜欢的那个人，我已不再喜欢</tspan><tspan x="76" dy="20">，可无论如何放不下。</tspan></text></g>
<g id="b8"><rect class="lt" x="67" y="4672" width="328" height="75" rx="8"/><text class="t ts" x="76" y="4695"><tspan>8) 佛说，十年修得同船渡，百年修得共枕眠</tspan><tspan x="76" dy="20">。能有那么一个人，陪我历经岁月悠长，陪我</tspan><tspan x="76" dy="20">看尽浮华变迁，是需要修多少年的缘分。</tspan></text></g>
<g id="b9"><rect class="lt" x="67" y="4781" width="328" height="55" rx="8"/><text class="t ts" x="76" y="4804"><tspan>9) 我愿用十年，换你一句好久不见;我愿用一</tspan><tspan x="76" dy="20">生，换你片刻笑颜倾城。</tspan></text></g>
<g id="label4"><rect class="lt" x="783" y="5842" width="133" height="36" rx="8"/><text class="t ts" x="849.5" y="5865.5" text-anchor="middle">十年之约的句子4</text></g>
<g id="c1"><rect class="lt" x="425" y="4960" width="328" height="55" rx="8"/><text class="t ts" x="434" y="4983"><tspan>1) 时间，可以了解爱情，可以证明爱情，也</tspan><tspan x="434" dy="20">可以推翻爱情。</tspan></text></g>
<g id="c2"><rect class="lt" x="425" y="5050" width="328" height="54" rx="8"/><text class="t ts" x="434" y="5072.5"><tspan>2) 十年，我倾尽一颗心，用尽全部力气，却</tspan><tspan x="434" dy="20">都是水中月，镜中花。</tspan></text></g>
<g id="c3"><rect class="lt" x="425" y="5139" width="328" height="55" rx="8"/><text class="t ts" x="434" y="5162"><tspan>3) 我甘心吞咽十年的暗恋，依旧难以放下对</tspan><tspan x="434" dy="20">你的不舍。</tspan></text></g>
<g id="c4"><rect class="lt" x="425" y="5228" width="328" height="56" rx="8"/><text class="t ts" x="434" y="5251.5"><tspan>4) 十年前的我们曾经笑得开心，笑得甜蜜，</tspan><tspan x="434" dy="20">未知如今的生离。</tspan></text></g>
<g id="c5"><rect class="lt" x="484" y="5317" width="269" height="35" rx="8"/><text class="t ts" x="493" y="5340">5) 谁愿用一生，换我十年天真无邪。</text></g>
<g id="c6"><rect class="lt" x="425" y="5387" width="328" height="56" rx="8"/><text class="t ts" x="434" y="5410.5"><tspan>6) 赐我一场相遇，却不赐我一场爱情。赐我</tspan><tspan x="434" dy="20">一场爱情，却不赐我地久天长。</tspan></text></g>
<g id="c7"><rect class="lt" x="425" y="5476" width="328" height="56" rx="8"/><text class="t ts" x="434" y="5499.5"><tspan>7) 我用十年去忘记一个人，却让她的轮廓在</tspan><tspan x="434" dy="20">我脑海更鲜活。</tspan></text></g>
<g id="c8"><rect class="lt" x="425" y="5565" width="328" height="76" rx="8"/><text class="t ts" x="434" y="5588.5"><tspan>8) 因为从来都是她一个人，十年时间，繁华</tspan><tspan x="434" dy="20">落尽，不过是一个人度过。也不习惯依靠任何</tspan><tspan x="434" dy="20">人，因为爱情，已经成为信仰，不是依靠。</tspan></text></g>
<g id="c9"><rect class="lt" x="425" y="5675" width="328" height="55" rx="8"/><text class="t ts" x="434" y="5698"><tspan>9) 我的世界早已坠入尘埃，没你的人间我哪</tspan><tspan x="434" dy="20">管他烟火又十年。</tspan></text></g>
<g id="c10"><rect class="lt" x="425" y="6705" width="328" height="55" rx="8"/><text class="t ts" x="434" y="6728"><tspan>10) 人生五十年，如梦亦如幻，有生斯有死，</tspan><tspan x="434" dy="20">壮士何所憾!</tspan></text></g>
<g id="d11"><rect class="lt" x="67" y="5765" width="328" height="76" rx="8"/><text class="t ts" x="76" y="5788.5"><tspan>11) 不如我们定下一个誓约，看看十年之后，</tspan><tspan x="76" dy="20">我们彼此又在哪里，听谁的歌，看谁的字，身</tspan><tspan x="76" dy="20">边的人又是谁?</tspan></text></g>
<g id="d12"><rect class="lt" x="67" y="5874" width="328" height="76" rx="8"/><text class="t ts" x="76" y="5897.5"><tspan>12) 你把人家的心弄碎了，你要她去拾破烂，</tspan><tspan x="76" dy="20">一小片一小片耐心地拾拼起来，像孩子们玩拼</tspan><tspan x="76" dy="20">图游戏似的，也许拼个十年八年也拼不全。</tspan></text></g>
<g id="d13"><rect class="lt" x="67" y="5985" width="328" height="55" rx="8"/><text class="t ts" x="76" y="6008"><tspan>13) 十年之后，我们是朋友，还可以问候;只</tspan><tspan x="76" dy="20">是那种温柔，再也找不到拥抱的理由。</tspan></text></g>
<g id="d14"><rect class="lt" x="67" y="6074" width="328" height="55" rx="8"/><text class="t ts" x="76" y="6097"><tspan>14) 要知道，十年前，十年后，你依然在我心</tspan><tspan x="76" dy="20">中是最美好的模样。</tspan></text></g>
<g id="d15"><rect class="lt" x="67" y="6163" width="328" height="55" rx="8"/><text class="t ts" x="76" y="6186"><tspan>15) 十年前，你想要改变世界。十年后，世界</tspan><tspan x="76" dy="20">改变了你。</tspan></text></g>
<g id="d16"><rect class="lt" x="71" y="6252" width="324" height="35" rx="8"/><text class="t ts" x="80" y="6275">16) 都已经等了他十年，无所谓再等上十年。</text></g>
<g id="d17"><rect class="lt" x="67" y="6321" width="328" height="55" rx="8"/><text class="t ts" x="76" y="6344"><tspan>17) 江湖夜雨十年灯，行尽天涯路，纵然不哭</tspan><tspan x="76" dy="20">，我的眼里已经有了风霜的颜色。</tspan></text></g>
<g id="d18"><rect class="lt" x="67" y="6411" width="328" height="76" rx="8"/><text class="t ts" x="76" y="6434.5"><tspan>18) 十年前你是谁，一年前你是谁，甚至昨天</tspan><tspan x="76" dy="20">你是谁都不重要，重要的是今天你是谁，以及</tspan><tspan x="76" dy="20">明天你将成为谁。</tspan></text></g>
<g id="d19"><rect class="lt" x="67" y="6520" width="328" height="56" rx="8"/><text class="t ts" x="76" y="6543.5"><tspan>19) 我以为爱情可以填满人生的遗憾。然而，</tspan><tspan x="76" dy="20">制造更多遗憾的。却偏偏是爱情。</tspan></text></g>
<g id="d20"><rect class="lt" x="86" y="6611" width="309" height="34" rx="8"/><text class="t ts" x="95" y="6633.5">20) 他们给了我十年，我要给默笙一辈子。</text></g>
<g id="d21"><rect class="lt" x="67" y="6679" width="328" height="75" rx="8"/><text class="t ts" x="76" y="6702"><tspan>21) 有一种爱，对方白白爱你一场，你也白白</tspan><tspan x="76" dy="20">爱了一场;完事之后，被爱者却比施爱者更难</tspan><tspan x="76" dy="20">受。这就叫无辜的爱情。</tspan></text></g>
<g id="d22"><rect class="lt" x="67" y="6789" width="328" height="55" rx="8"/><text class="t ts" x="76" y="6812"><tspan>22) 既然已经等了十年，那么再等十年也没关</tspan><tspan x="76" dy="20">系的吧。</tspan></text></g>
<g id="d23"><rect class="lt" x="67" y="6878" width="328" height="96" rx="8"/><text class="t ts" x="76" y="6901.5"><tspan>23) 看看十年前的种种计较，今觉可笑，若十</tspan><tspan x="76" dy="20">年后反观今日的争执，应会莞尔，由此可知对</tspan><tspan x="76" dy="20">于时间每个动点上的执著，只会徒增我们的烦</tspan><tspan x="76" dy="20">恼而已。</tspan></text></g>
<g id="d24"><rect class="lt" x="70" y="7008" width="325" height="36" rx="8"/><text class="t ts" x="79" y="7031.5">24) 十年后双双，万年后对对，只恨看不到。</text></g>
<g id="d25"><rect class="lt" x="67" y="7077" width="328" height="55" rx="8"/><text class="t ts" x="76" y="7100"><tspan>25) 只有见识过烟火和爱情的人，才知道人世</tspan><tspan x="76" dy="20">间的美好与凄凉。</tspan></text></g>
<g id="d26"><rect class="lt" x="67" y="7166" width="328" height="96" rx="8"/><text class="t ts" x="76" y="7189.5"><tspan>26) 其实我们都知道，十年后，二十年后，今</tspan><tspan x="76" dy="20">天发生的事情都会变得不重要。但是你要明白</tspan><tspan x="76" dy="20">的是，在悲剧面前，根本无需分开重要不重要</tspan><tspan x="76" dy="20">。</tspan></text></g>
<g id="d27"><rect class="lt" x="67" y="7296" width="328" height="56" rx="8"/><text class="t ts" x="76" y="7319.5"><tspan>27) 十年前，十年后。时光，终究是个让人心</tspan><tspan x="76" dy="20">痛的东西。</tspan></text></g>
<g id="d28"><rect class="lt" x="67" y="7386" width="328" height="75" rx="8"/><text class="t ts" x="76" y="7409"><tspan>28) 时间没有等我，是你忘了带我走，我左手</tspan><tspan x="76" dy="20">过目不忘的的萤火，右手里是十年一个漫长的</tspan><tspan x="76" dy="20">打坐。</tspan></text></g>
<g id="d29"><rect class="lt" x="67" y="7495" width="328" height="96" rx="8"/><text class="t ts" x="76" y="7518.5"><tspan>29) 我以为小鸟飞不过沧海，是因为小鸟没有</tspan><tspan x="76" dy="20">飞过沧海的勇气，十年以后我才发现，不是小</tspan><tspan x="76" dy="20">鸟飞不过去，而是沧海的那一头，早已没有了</tspan><tspan x="76" dy="20">等待。</tspan></text></g>
<g id="d30"><rect class="lt" x="67" y="7625" width="328" height="75" rx="8"/><text class="t ts" x="76" y="7648"><tspan>30) 世间谤我，欺我，辱我，笑我，骗我，如</tspan><tspan x="76" dy="20">何处置乎?只要忍他，让他，避他，由他，不</tspan><tspan x="76" dy="20">要理他，再过十年，你且看他。</tspan></text></g>
</g>
</svg>
